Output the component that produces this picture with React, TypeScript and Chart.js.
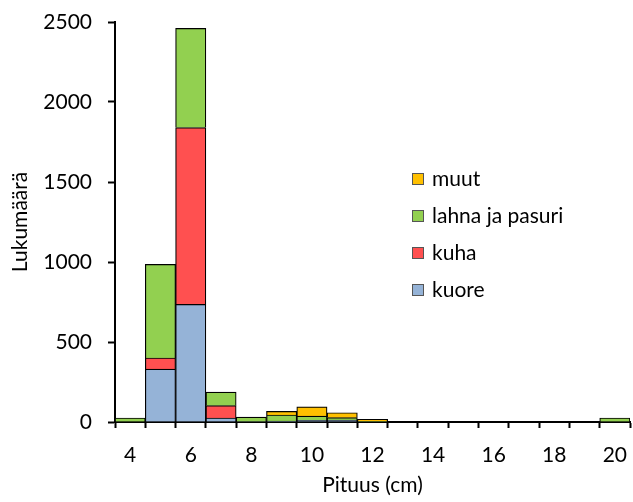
import React, { useEffect, useRef } from "react";
import { Chart, registerables } from "chart.js";

Chart.register(...registerables);

const categories = ["4", "5", "6", "7", "8", "9", "10", "11", "12", "13", "14", "15", "16", "17", "18", "19", "20"];
const kuore = [null, 330, 735, 25, 3, 5, 10, 12, null, null, null, null, null, null, null, null, null];
const kuha = [null, 70, 1105, 77, null, null, null, null, null, null, null, null, null, null, null, null, null];
const lahna = [25, 585, 620, 85, 28, 39, 27, 15, 4, null, null, null, null, null, null, null, 25];
const muut = [null, null, null, null, null, 22, 58, 31, 12, null, null, null, null, null, null, null, null];
const yTicks = [0, 500, 1000, 1500, 2000, 2500];

const FONT = "Lato";
const FS = 21;

const legendPlugin = {
  id: "customLegend",
  afterDraw(chart: any) {
    const ctx = chart.ctx;
    const ds = chart.data.datasets;
    const order = [3, 2, 1, 0];
    const x0 = 412;
    const y0 = 179;
    const step = 37;
    ctx.save();
    ctx.font = `${FS}px ${FONT}`;
    ctx.textBaseline = "middle";
    ctx.textAlign = "left";
    order.forEach((i, row) => {
      const y = y0 + row * step;
      ctx.fillStyle = ds[i].backgroundColor;
      ctx.fillRect(x0, y - 6, 12, 12);
      ctx.strokeStyle = "#555555";
      ctx.lineWidth = 1;
      ctx.strokeRect(x0 + 0.5, y - 5.5, 11, 11);
      ctx.fillStyle = "#000000";
      ctx.fillText(ds[i].label, x0 + 20, y);
    });
    ctx.restore();
  },
};

export default function App() {
  const ref = useRef<HTMLCanvasElement | null>(null);
  useEffect(() => {
    document.body.style.margin = "0";
    const mk = (label: string, data: any[], color: string) => ({
      label,
      data,
      backgroundColor: color,
      borderColor: "#000000",
      borderWidth: 1.2,
      categoryPercentage: 1,
      barPercentage: 1,
    });
    const chart = new Chart(ref.current as HTMLCanvasElement, {
      type: "bar",
      data: {
        labels: categories,
        datasets: [
          mk("kuore", kuore, "#95B3D7"),
          mk("kuha", kuha, "#FF5050"),
          mk("lahna ja pasuri", lahna, "#92D050"),
          mk("muut", muut, "#FFC000"),
        ],
      },
      options: {
        animation: false,
        responsive: false,
        maintainAspectRatio: false,
        layout: { padding: { top: 22, right: 3, left: 0, bottom: 0 } },
        plugins: {
          legend: { display: false },
          tooltip: { enabled: false },
        },
        scales: {
          x: {
            stacked: true,
            offset: true,
            grid: {
              offset: true,
              drawOnChartArea: false,
              drawTicks: true,
              tickLength: 6,
              tickWidth: 2,
              tickColor: "#000000",
            },
            border: { display: true, color: "#000000", width: 2 },
            ticks: {
              autoSkip: false,
              maxRotation: 0,
              padding: 15,
              color: "#000000",
              font: { family: FONT, size: FS },
              callback: (_v: any, i: number) => (i % 2 === 0 ? categories[i] : ""),
            },
            title: {
              display: true,
              text: "Pituus (cm)",
              color: "#000000",
              font: { family: FONT, size: FS },
              padding: { top: 0, bottom: 4 },
            },
            afterFit: (s: any) => {
              s.height = 80;
              s.paddingLeft = 0;
              s.paddingRight = 0;
            },
          },
          y: {
            stacked: true,
            min: 0,
            max: 2500,
            afterBuildTicks: (s: any) => {
              s.ticks = yTicks.map((v) => ({ value: v }));
            },
            grid: {
              drawOnChartArea: false,
              drawTicks: true,
              tickLength: 7,
              tickWidth: 2,
              tickColor: "#000000",
            },
            border: { display: true, color: "#000000", width: 2 },
            ticks: {
              padding: 16,
              color: "#000000",
              font: { family: FONT, size: FS },
              callback: (v: any) => String(v),
            },
            title: {
              display: true,
              text: "Lukumäärä",
              color: "#000000",
              font: { family: FONT, size: FS },
              padding: { top: 8, bottom: 0 },
            },
            afterFit: (s: any) => {
              s.width = 115;
              s.paddingTop = 0;
              s.paddingBottom = 0;
            },
          },
        },
      },
      plugins: [legendPlugin],
    });
    return () => chart.destroy();
  }, []);
  return <canvas ref={ref} width={633} height={502} style={{ display: "block" }} />;
}
